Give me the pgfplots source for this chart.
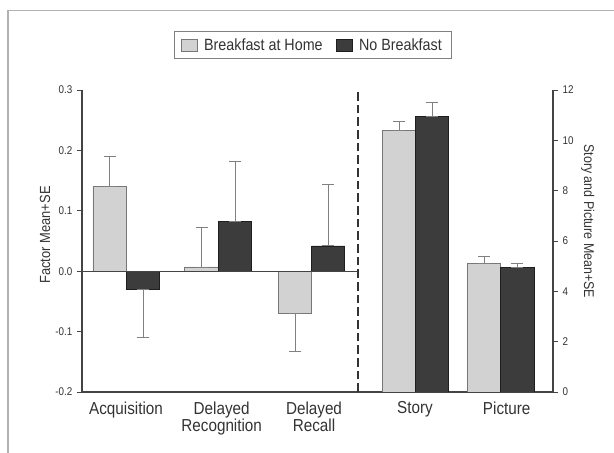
\documentclass[border=0pt]{standalone}
\usepackage{pgfplots}
\pgfplotsset{compat=1.18}
\usepackage{fontspec}
\setmainfont{Liberation Sans}[FakeStretch=0.88]
\definecolor{lightbar}{HTML}{D2D2D2}
\definecolor{lightedge}{HTML}{777777}
\definecolor{darkbar}{HTML}{3C3C3C}
\definecolor{darkedge}{HTML}{1E1E1E}
\definecolor{axgray}{HTML}{444444}
\definecolor{txtgray}{HTML}{333333}
\begin{document}
\begin{tikzpicture}
\useasboundingbox (-61.5pt,-45.75pt) rectangle (399pt,294pt);
\draw[gray!60, line width=1.3pt] (-55.5pt,-45.75pt) -- (-55.5pt,286.1pt) -- (399pt,286.1pt);
\pgfplotsset{
  common/.style={
    scale only axis, width=353.25pt, height=226.5pt,
    at={(0,0)}, anchor=south west,
    xmin=82, xmax=553,
    ybar, bar width=33.5, bar shift=0pt,
    tick align=outside,
    major tick length=3.75pt,
    /pgf/number format/assume math mode=true,
    tick label style={font=\fontsize{8.4}{9}\selectfont, text=txtgray},
    axis line style={axgray, line width=0.8pt},
    every tick/.style={axgray, line width=0.7pt},
    error bars/y dir=both, error bars/y explicit,
    error bars/error bar style={gray, line width=0.55pt},
    error bars/error mark options={gray, line width=0.55pt, mark size=4.5pt, rotate=90},
  },
  lightst/.style={fill=lightbar, draw=lightedge, line width=0.5pt},
  darkst/.style={fill=darkbar, draw=darkedge, line width=0.5pt},
}
\begin{axis}[common,
  ymin=-0.2, ymax=0.3,
  axis x line*=bottom, axis y line*=left,
  ytick={-0.2,-0.1,0,0.1,0.2,0.3},
  yticklabel style={/pgf/number format/fixed, /pgf/number format/fixed zerofill, /pgf/number format/precision=1},
  xtick={126,221.7,314,415,506.7},
  xticklabels={Acquisition,{Delayed\\Recognition},{Delayed\\Recall},Story,Picture},
  x tick label style={align=center, anchor=north, yshift=0pt, font=\fontsize{13}{13}\selectfont, text=txtgray},
  major x tick style={draw=none},
  ylabel={Factor Mean+SE},
  ylabel style={at={(axis description cs:-0.0786,0.52)}, anchor=center, font=\fontsize{11}{12}\selectfont, text=txtgray},
  legend columns=2,
  legend style={at={(0.49,1.148)}, anchor=center, draw=gray, line width=0.6pt,
    font=\fontsize{12.2}{13}\selectfont, text=txtgray, inner ysep=3pt, inner xsep=5pt,
    /tikz/every even column/.append style={column sep=8pt}},
  legend image code/.code={\draw[#1, line width=0.4pt] (0cm,-0.15cm) rectangle (0.42cm,0.17cm); \path (0.52cm,0);},
]
\addplot[lightst] coordinates {(109.7,0.14) += (0,0.05) -= (0,0)
  (201.5,0.007) += (0,0.065) -= (0,0)
  (295,-0.07) += (0,0) -= (0,0.063)};
\addlegendentry{Breakfast at Home}
\addplot[darkst] coordinates {(143,-0.03) += (0,0) -= (0,0.08)
  (235,0.082) += (0,0.10) -= (0,0)
  (328,0.042) += (0,0.101) -= (0,0)};
\addlegendentry{No Breakfast}
\draw[axgray, line width=0.7pt] (axis cs:82,0) -- (axis cs:358,0);
\draw[black!80, line width=0.9pt, dash pattern=on 6.5pt off 3pt] (axis cs:358,-0.2) -- (axis cs:358,0.3);
\end{axis}
\begin{axis}[common,
  ymin=0, ymax=12,
  axis x line=none, axis y line*=right,
  ytick={0,2,4,6,8,10,12},
  ylabel={Story and Picture Mean+SE},
  ylabel style={at={(axis description cs:1.0737,0.565)}, anchor=center, rotate=180, font=\fontsize{10.6}{12}\selectfont, text=txtgray},
]
\addplot[lightst] coordinates {(399,10.38) += (0,0.36) -= (0,0)
  (484,5.1) += (0,0.27) -= (0,0)};
\addplot[darkst] coordinates {(432,10.94) += (0,0.56) -= (0,0)
  (517.3,4.94) += (0,0.16) -= (0,0)};
\end{axis}
\end{tikzpicture}
\end{document}
